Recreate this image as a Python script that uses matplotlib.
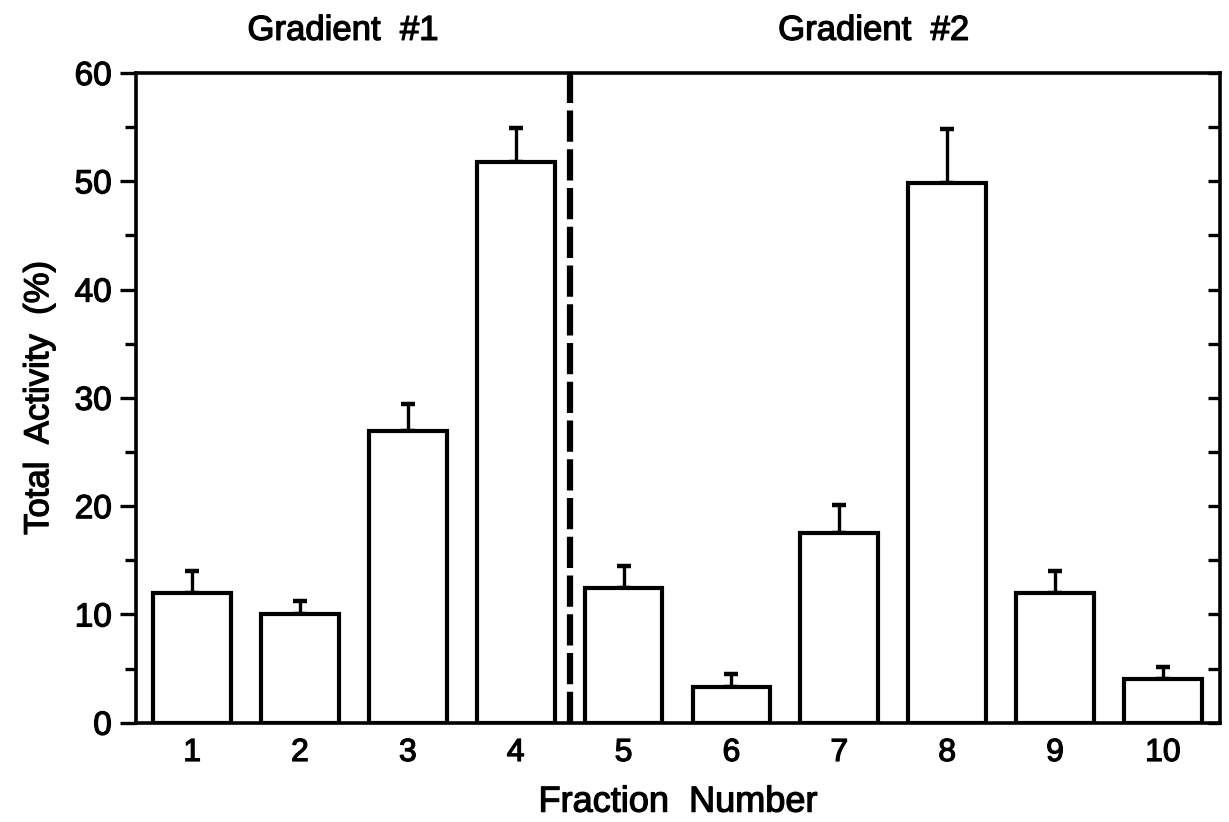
import numpy as np
import matplotlib
matplotlib.use("Agg")
import matplotlib.pyplot as plt
import matplotlib.patheffects as pe
from matplotlib.ticker import MultipleLocator

# values
fractions = [1, 2, 3, 4, 5, 6, 7, 8, 9, 10]
activity = [12.0, 10.0, 26.9, 51.8, 12.4, 3.3, 17.5, 49.8, 12.0, 4.0]
err_up = [2.0, 1.2, 2.5, 3.1, 2.1, 1.2, 2.6, 5.0, 2.0, 1.1]
gradient_labels = ["Gradient  #1", "Gradient  #2"]
gradient_label_x = [2.40, 7.32]
divider_x = 4.5

plt.rcParams['font.family'] = ['Liberation Sans', 'DejaVu Sans']
bold_fx = [pe.withStroke(linewidth=0.9, foreground='black')]

fig = plt.figure(figsize=(12.29, 8.22), dpi=100)
ax = fig.add_axes([0.1107, 0.1208, 0.882, 0.7904])

lw = 3.0
ax.bar(fractions, activity, width=0.72, color='white', edgecolor='black', linewidth=lw, zorder=2)
ax.errorbar(fractions, activity, yerr=[np.zeros(len(err_up)), err_up], fmt='none',
            ecolor='black', elinewidth=2.4, capsize=4.8, capthick=3.2, zorder=1)
ax.axvline(divider_x, color='black', linewidth=4.5, linestyle=(0, (5, 1.2)), zorder=3)

ax.set_xlim(0.48, 10.53)
ax.set_ylim(0, 60)
ax.set_xticks(fractions)
ax.yaxis.set_major_locator(MultipleLocator(10))
ax.yaxis.set_minor_locator(MultipleLocator(5))
ax.tick_params(axis='x', length=0, labelsize=23, pad=11)
ax.tick_params(axis='y', which='major', direction='out', length=11.5, width=2.4, labelsize=24, pad=6)
ax.tick_params(axis='y', which='minor', direction='out', length=8, width=2.4)

for s in ax.spines.values():
    s.set_linewidth(2.6)

# right side inward ticks
ax2 = ax.twinx()
ax2.set_ylim(0, 60)
ax2.yaxis.set_major_locator(MultipleLocator(5))
ax2.tick_params(axis='y', direction='in', length=9, width=2.4, labelright=False)
for s in ax2.spines.values():
    s.set_visible(False)

ax.set_xlabel("Fraction  Number", fontsize=26, labelpad=12, path_effects=bold_fx)
ax.set_ylabel("Total  Activity  (%)", fontsize=25, labelpad=14, path_effects=bold_fx)

for lab, gx in zip(gradient_labels, gradient_label_x):
    ax.text(gx, 1.051, lab, transform=ax.get_xaxis_transform(), ha='center', va='baseline',
            fontsize=25, path_effects=bold_fx)

for t in ax.get_xticklabels() + ax.get_yticklabels():
    t.set_path_effects(bold_fx)

fig.savefig("out.png", dpi=100)
